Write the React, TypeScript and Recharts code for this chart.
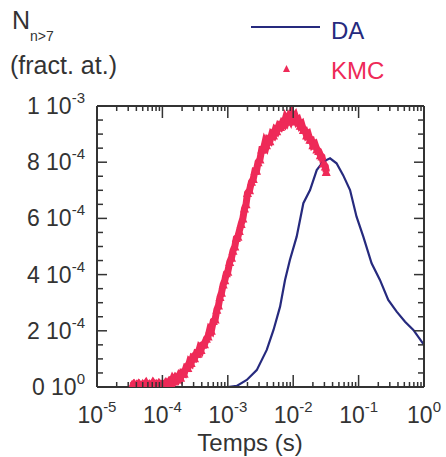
import React from "react";
import { ComposedChart, Line, Scatter, XAxis, YAxis } from "recharts";

// DA curve: time (s) and N (units of 1e-4 fract. at.)
const daTime = [
  1.0e-3, 1.37e-3, 1.95e-3, 2.77e-3, 3.94e-3, 5.0e-3, 6.3e-3, 7.5e-3, 8.9e-3,
  1.13e-2, 1.43e-2, 1.81e-2, 2.29e-2, 2.88e-2, 3.66e-2, 4.6e-2, 5.8e-2, 7.4e-2,
  9.3e-2, 0.118, 0.158, 0.212, 0.284, 0.382, 0.513, 0.687, 1.0,
];
const daValue = [
  0, 0.04, 0.25, 0.6, 1.32, 2.03, 2.86, 3.81, 4.52,
  5.35, 6.54, 7.01, 7.72, 8.02, 8.14, 7.96, 7.54, 7.01,
  6.06, 5.35, 4.4, 3.81, 3.1, 2.68, 2.32, 2.03, 1.5,
];

// KMC points
const kmcTime = [
  3.4e-5, 3.6e-5, 3.8e-5, 4.0e-5, 4.3e-5, 4.6e-5, 5.0e-5, 5.3e-5, 5.6e-5, 6.0e-5,
  6.4e-5, 6.8e-5, 7.2e-5, 7.6e-5, 8.0e-5, 8.5e-5, 9.0e-5, 9.5e-5,
  1.0e-4, 1.07e-4, 1.14e-4, 1.2e-4, 1.28e-4, 1.35e-4, 1.43e-4, 1.5e-4, 1.6e-4, 1.7e-4,
  1.8e-4, 1.9e-4, 2.0e-4, 2.15e-4, 2.3e-4, 2.45e-4, 2.6e-4, 2.75e-4, 2.9e-4, 3.1e-4,
  3.3e-4, 3.5e-4, 3.7e-4, 3.9e-4, 4.1e-4, 4.4e-4, 4.7e-4, 5.0e-4, 5.3e-4, 5.6e-4,
  6.0e-4, 6.4e-4, 6.8e-4, 7.2e-4, 7.6e-4, 8.0e-4, 8.5e-4, 9.0e-4, 9.5e-4,
  1.0e-3, 1.07e-3, 1.14e-3, 1.2e-3, 1.28e-3, 1.35e-3, 1.43e-3, 1.5e-3, 1.6e-3, 1.7e-3,
  1.8e-3, 1.9e-3, 2.0e-3, 2.15e-3, 2.3e-3, 2.45e-3, 2.6e-3, 2.75e-3, 2.9e-3, 3.1e-3,
  3.3e-3, 3.5e-3, 3.7e-3, 3.9e-3, 4.1e-3, 4.4e-3, 4.7e-3, 5.0e-3, 5.3e-3, 5.6e-3,
  6.0e-3, 6.4e-3, 6.8e-3, 7.2e-3, 7.6e-3, 8.0e-3, 8.5e-3, 9.0e-3, 9.5e-3,
  1.0e-2, 1.07e-2, 1.14e-2, 1.2e-2, 1.28e-2, 1.35e-2, 1.43e-2, 1.5e-2, 1.6e-2, 1.7e-2,
  1.8e-2, 1.9e-2, 2.0e-2, 2.15e-2, 2.3e-2, 2.45e-2, 2.6e-2, 2.75e-2, 2.9e-2, 3.1e-2,
  3.2e-2,
];
const kmcValue = [
  0.05, 0.1, 0.0, 0.08, 0.12, 0.02, 0.1, 0.05, 0.13, 0.0,
  0.09, 0.04, 0.14, 0.06, 0.1, 0.02, 0.12, 0.07,
  0.11, 0.04, 0.15, 0.1, 0.2, 0.14, 0.28, 0.2, 0.33, 0.27,
  0.4, 0.33, 0.5, 0.47, 0.7, 0.68, 0.9, 0.85, 1.05, 1.02,
  1.2, 1.18, 1.38, 1.32, 1.5, 1.52, 1.72, 1.8, 2.05, 2.0,
  2.35, 2.4, 2.75, 2.9, 3.2, 3.35, 3.65, 3.8, 4.05,
  4.1, 4.45, 4.6, 4.85, 5.0, 5.3, 5.35, 5.55, 5.8, 6.0,
  6.35, 6.5, 6.9, 7.0, 7.3, 7.4, 7.7, 7.7, 8.0, 8.1,
  8.45, 8.45, 8.7, 8.6, 8.8, 8.75, 9.0, 8.95, 9.15, 9.1,
  9.3, 9.25, 9.4, 9.35, 9.55, 9.45, 9.6, 9.5, 9.7,
  9.55, 9.65, 9.45, 9.5, 9.3, 9.35, 9.15, 9.15, 8.95, 9.0,
  8.8, 8.8, 8.6, 8.65, 8.45, 8.4, 8.25, 8.2, 7.95, 7.85,
  7.65,
];

const xDecades = [1e-5, 1e-4, 1e-3, 1e-2, 1e-1];
const xMultipliers = [1, 2, 3, 4, 5, 6, 7, 8, 9];
const xTicks = [...xDecades.flatMap((d) => xMultipliers.map((m) => m * d)), 1];

const yTicks = [0, 0.5, 1, 1.5, 2, 2.5, 3, 3.5, 4, 4.5, 5, 5.5, 6, 6.5, 7, 7.5, 8, 8.5, 9, 9.5, 10];
const yLabelMantissa: Record<number, string> = { 0: "0", 2: "2", 4: "4", 6: "6", 8: "8", 10: "1" };
const yLabelExponent: Record<number, string> = { 0: "0", 2: "-4", 4: "-4", 6: "-4", 8: "-4", 10: "-3" };

const daData = daTime.map((t, i) => ({ t, y: daValue[i] }));
const kmcData = kmcTime.map((t, i) => ({ t, y: kmcValue[i] }));

const NAVY = "#262a7e";
const RED = "#ee2a58";
const AXIS = "#333333";
const FONT = "'Liberation Sans', Arial, Helvetica, sans-serif";

const isDecade = (v: number) => Math.abs(Math.log10(v) - Math.round(Math.log10(v))) < 1e-6;

const XTickBottom = (props: any) => {
  const { x, y, payload } = props;
  const major = isDecade(payload.value);
  const exp = Math.round(Math.log10(payload.value));
  return (
    <g>
      <line x1={x} x2={x} y1={y} y2={y - (major ? 12 : 5)} stroke={AXIS} strokeWidth={1.5} />
      {major && (
        <text x={x} y={y + 36} textAnchor="middle" fill={AXIS} fontFamily={FONT} fontSize={23}>
          <tspan>10</tspan>
          <tspan dy={-11} fontSize={15}>{String(exp)}</tspan>
        </text>
      )}
    </g>
  );
};

const XTickTop = (props: any) => {
  const { x, y, payload } = props;
  const major = isDecade(payload.value);
  return <line x1={x} x2={x} y1={y} y2={y + (major ? 12 : 5)} stroke={AXIS} strokeWidth={1.5} />;
};

const YTickLeft = (props: any) => {
  const { x, y, payload } = props;
  const v = payload.value;
  const major = v % 2 === 0;
  return (
    <g>
      <line x1={x} x2={x + (major ? 10 : 6)} y1={y} y2={y} stroke={AXIS} strokeWidth={1.5} />
      {major && (
        <text x={x - 12} y={y + 8} textAnchor="end" fill={AXIS} fontFamily={FONT} fontSize={23}>
          <tspan>{yLabelMantissa[v] + " 10"}</tspan>
          <tspan dy={-11} fontSize={15}>{yLabelExponent[v]}</tspan>
        </text>
      )}
    </g>
  );
};

const YTickRight = (props: any) => {
  const { x, y, payload } = props;
  const major = payload.value % 2 === 0;
  return <line x1={x} x2={x - (major ? 10 : 6)} y1={y} y2={y} stroke={AXIS} strokeWidth={1.5} />;
};

const Triangle = (props: any) => {
  const { cx, cy } = props;
  return <path d={`M${cx},${cy - 5.5}L${cx + 4.5},${cy + 4}L${cx - 4.5},${cy + 4}Z`} fill={RED} />;
};

const axisCommon = {
  type: "number" as const,
  allowDataOverflow: true,
  interval: 0 as const,
  tickSize: 0,
  tickMargin: 0,
  tickLine: false,
  axisLine: { stroke: AXIS, strokeWidth: 2 },
};

export default function App() {
  return (
    <div style={{ position: "absolute", left: 0, top: 0, width: 446, height: 457, background: "#fff" }}>
      <ComposedChart width={446} height={457} margin={{ top: 96, right: 12, bottom: 20, left: 7 }}>
        <XAxis
          {...axisCommon}
          xAxisId="b"
          dataKey="t"
          scale="log"
          domain={[1e-5, 1]}
          ticks={xTicks}
          height={50}
          tick={<XTickBottom />}
        />
        <XAxis
          {...axisCommon}
          xAxisId="top"
          orientation="top"
          dataKey="t"
          scale="log"
          domain={[1e-5, 1]}
          ticks={xTicks}
          height={10}
          tick={<XTickTop />}
        />
        <YAxis
          {...axisCommon}
          yAxisId="l"
          dataKey="y"
          domain={[0, 10]}
          ticks={yTicks}
          width={90}
          tick={<YTickLeft />}
        />
        <YAxis
          {...axisCommon}
          yAxisId="r"
          orientation="right"
          dataKey="y"
          domain={[0, 10]}
          ticks={yTicks}
          width={10}
          tick={<YTickRight />}
        />
        <Line
          xAxisId="b"
          yAxisId="l"
          data={kmcData}
          dataKey="y"
          type="linear"
          stroke={RED}
          strokeWidth={7}
          dot={false}
          legendType="none"
          isAnimationActive={false}
        />
        <Scatter
          xAxisId="b"
          yAxisId="l"
          data={kmcData}
          dataKey="y"
          fill={RED}
          shape={<Triangle />}
          isAnimationActive={false}
        />
        <Line
          xAxisId="b"
          yAxisId="l"
          data={daData}
          dataKey="y"
          type="linear"
          stroke={NAVY}
          strokeWidth={2.2}
          dot={false}
          isAnimationActive={false}
        />
      </ComposedChart>
      <svg width={446} height={457} style={{ position: "absolute", left: 0, top: 0, pointerEvents: "none" }}>
        <text x={12} y={29} fill={AXIS} fontFamily={FONT} fontSize={25}>N</text>
        <text x={30} y={41} fill={AXIS} fontFamily={FONT} fontSize={14}>n&gt;7</text>
        <text x={10} y={74} fill={AXIS} fontFamily={FONT} fontSize={25}>(fract. at.)</text>
        <line x1={251} x2={320} y1={27} y2={27} stroke={NAVY} strokeWidth={2} />
        <text x={331} y={39} fill={NAVY} fontFamily={FONT} fontSize={24}>DA</text>
        <path d="M286.5,65L290,72L283,72Z" fill={RED} />
        <text x={331} y={79} fill={RED} fontFamily={FONT} fontSize={24}>KMC</text>
        <text x={250} y={451} textAnchor="middle" fill={AXIS} fontFamily={FONT} fontSize={24}>Temps (s)</text>
      </svg>
    </div>
  );
}
